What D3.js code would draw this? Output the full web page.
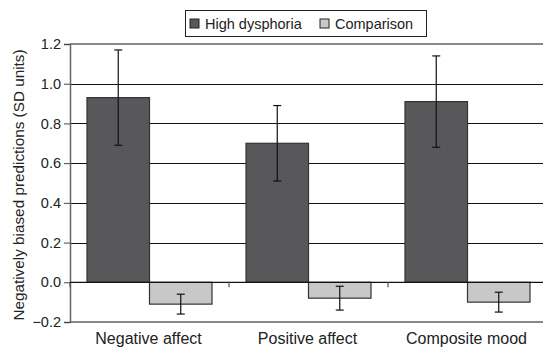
<!DOCTYPE html>
<html>
<head>
<meta charset="utf-8">
<script src="https://cdn.jsdelivr.net/npm/d3@7"></script>
<style>
  body { margin: 0; background: #fff; }
  text { font-family: "Liberation Sans", Arial, sans-serif; fill: #222; }
</style>
</head>
<body>
<div id="chart"></div>
<script>
var categories = ['Negative affect', 'Positive affect', 'Composite mood'];
var series = ['High dysphoria', 'Comparison'];
var highValues = [0.93, 0.70, 0.91];
var highLow = [0.69, 0.51, 0.68];
var highHigh = [1.17, 0.89, 1.14];
var compValues = [-0.11, -0.08, -0.10];
var compLow = [-0.16, -0.14, -0.15];
var compHigh = [-0.06, -0.02, -0.05];
var yTicks = [-0.2, 0.0, 0.2, 0.4, 0.6, 0.8, 1.0, 1.2];

var colors = ['#58585a', '#c8c8c8'];

var width = 543, height = 347;
var margin = {top: 44, right: -4, bottom: 25, left: 70};
var innerW = width - margin.left - margin.right,
    innerH = height - margin.top - margin.bottom;

var rows = [];
categories.forEach(function(c, i){
    rows.push({cat: c, s: series[0], v: highValues[i], lo: highLow[i], hi: highHigh[i]});
    rows.push({cat: c, s: series[1], v: compValues[i], lo: compLow[i], hi: compHigh[i]});
});

var svg = d3.select('#chart').append('svg')
    .attr('width', width)
    .attr('height', height);

var g = svg.append('g')
    .attr('transform', 'translate(' + margin.left + ',' + margin.top + ')');

var x0 = d3.scaleBand().domain(categories).range([0, innerW]);
var x1 = d3.scaleBand().domain(series).range([17, x0.bandwidth() - 17]);
var y = d3.scaleLinear().domain([-0.2, 1.2]).range([innerH, 0]);

// gridlines
g.selectAll('line.grid')
    .data(yTicks.filter(function(t){ return t > -0.2 && t < 1.2; }))
    .enter().append('line')
    .attr('x1', 0).attr('x2', innerW)
    .attr('y1', function(d){ return Math.round(y(d)) + 0.5; })
    .attr('y2', function(d){ return Math.round(y(d)) + 0.5; })
    .attr('stroke', '#111').attr('stroke-width', 1.2);

// top and bottom frame lines
[1.2, -0.2].forEach(function(t){
    g.append('line')
        .attr('x1', 0).attr('x2', innerW)
        .attr('y1', y(t)).attr('y2', y(t))
        .attr('stroke', '#888').attr('stroke-width', 2);
});

// y axis
var yAxis = d3.axisLeft(y).tickValues(yTicks).tickSize(6).tickPadding(3)
    .tickFormat(function(d){ return d3.format('.1f')(d).replace('-', '\u2212'); });
var ya = g.append('g').call(yAxis);
ya.select('.domain').attr('stroke', '#666').attr('stroke-width', 1.5);
ya.selectAll('.tick line').attr('stroke', '#444');
ya.selectAll('.tick text').attr('font-size', 14.5).attr('fill', '#222')
    .attr('font-family', '"Liberation Sans", Arial, sans-serif');

// bars
var groups = g.selectAll('g.cat')
    .data(categories)
    .enter().append('g')
    .attr('transform', function(d){ return 'translate(' + x0(d) + ',0)'; });

groups.selectAll('rect')
    .data(function(c){ return rows.filter(function(r){ return r.cat === c; }); })
    .enter().append('rect')
    .attr('x', function(d){ return x1(d.s); })
    .attr('width', x1.bandwidth())
    .attr('y', function(d){ return y(Math.max(0, d.v)); })
    .attr('height', function(d){ return Math.abs(y(d.v) - y(0)); })
    .attr('fill', function(d){ return colors[series.indexOf(d.s)]; })
    .attr('stroke', '#333').attr('stroke-width', 1.2);

// error bars
var eb = groups.selectAll('g.err')
    .data(function(c){ return rows.filter(function(r){ return r.cat === c; }); })
    .enter().append('g')
    .attr('transform', function(d){ return 'translate(' + (x1(d.s) + x1.bandwidth() / 2) + ',0)'; });
eb.append('line')
    .attr('y1', function(d){ return y(d.lo); })
    .attr('y2', function(d){ return y(d.hi); })
    .attr('stroke', '#111').attr('stroke-width', 1.2);
eb.selectAll('line.cap')
    .data(function(d){ return [d.lo, d.hi]; })
    .enter().append('line')
    .attr('x1', -4).attr('x2', 4)
    .attr('y1', function(v){ return y(v); })
    .attr('y2', function(v){ return y(v); })
    .attr('stroke', '#111').attr('stroke-width', 1.2);

// zero line with category separators
g.append('line')
    .attr('x1', 0).attr('x2', innerW)
    .attr('y1', y(0)).attr('y2', y(0))
    .attr('stroke', '#111').attr('stroke-width', 1.2);
g.selectAll('line.sep')
    .data(categories)
    .enter().append('line')
    .attr('x1', function(d){ return x0(d); })
    .attr('x2', function(d){ return x0(d); })
    .attr('y1', y(0)).attr('y2', y(0) + 5)
    .attr('stroke', '#555').attr('stroke-width', 1.2);

// category labels
g.selectAll('text.cat')
    .data(categories)
    .enter().append('text')
    .attr('x', function(d){ return x0(d) + x0.bandwidth() / 2 - 1; })
    .attr('y', innerH + 22)
    .attr('text-anchor', 'middle')
    .attr('font-size', 16)
    .text(function(d){ return d; });

// y label
svg.append('text')
    .attr('transform', 'translate(24,185) rotate(-90)')
    .attr('text-anchor', 'middle')
    .attr('font-size', 15.3)
    .text('Negatively biased predictions (SD units)');

// legend
var legend = svg.append('g').attr('transform', 'translate(185,10)');
legend.append('rect')
    .attr('x', 0.5).attr('y', 0.5).attr('width', 241).attr('height', 26)
    .attr('fill', '#fff').attr('stroke', '#222').attr('stroke-width', 1);
var items = legend.selectAll('g.item')
    .data(series)
    .enter().append('g')
    .attr('transform', function(d, i){ return 'translate(' + [5, 135][i] + ',0)'; });
items.append('rect')
    .attr('x', 0).attr('y', 9).attr('width', 9).attr('height', 9)
    .attr('fill', function(d, i){ return colors[i]; })
    .attr('stroke', '#222').attr('stroke-width', 1);
items.append('text')
    .attr('x', 15).attr('y', 19)
    .attr('font-size', 14.5)
    .text(function(d){ return d; });
</script>
</body>
</html>
